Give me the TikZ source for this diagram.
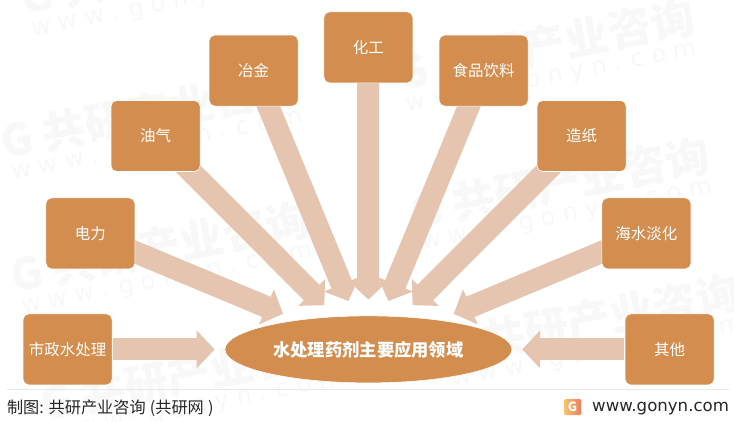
\documentclass[tikz,border=0pt]{standalone}
\usepackage{fontspec}
\setmainfont{Noto Sans CJK SC}
\newfontfamily\webfont{DejaVu Sans}
\usepackage{tikz}
\usetikzlibrary{arrows.meta, shapes.geometric, backgrounds}
\definecolor{boxorange}{HTML}{D38D4F}
\definecolor{flowtan}{HTML}{E5C4B0}
\definecolor{markgray}{HTML}{F8F8F8}
\definecolor{logoleft}{HTML}{F9C46B}
\definecolor{logoright}{HTML}{EE7C60}
\tikzset{
    fieldbox/.style={draw=white, fill=boxorange, rounded corners=4pt, text=white,
        minimum width=2.225cm, minimum height=1.775cm, font=\fontsize{11}{12}\selectfont},
    flow/.style={draw=flowtan, line width=15.6pt, shorten <=-14pt, shorten >=16*0.7113pt,
        -{Triangle[length=12.8pt,width=26.3pt]}},
    flowflat/.style={flow, shorten >=10*0.7113pt},
    marktitle/.style={rotate=11, text=markgray, font=\bfseries\fontsize{31}{34}\selectfont},
    markweb/.style={rotate=11, text=markgray, font=\webfont\fontsize{17}{20}\selectfont}
}

\begin{document}
\begin{tikzpicture}
    \useasboundingbox (0,0) rectangle (18.35,10.525);

    % Draw the centre ellipse
    \node[ellipse, draw=white, fill=boxorange, inner sep=0pt, minimum width=7.175cm, minimum height=1.675cm,
        text=white, font=\bfseries\fontsize{12.3}{14}\selectfont] (main) at (9.21,1.79) {水处理药剂主要应用领域};

    % Draw the field boxes
    \node[fieldbox] (shizheng) at (1.69,1.79) {市政水处理};
    \node[fieldbox] (dianli) at (2.26,4.69) {电力};
    \node[fieldbox] (youqi) at (3.89,7.125) {油气};
    \node[fieldbox] (yejin) at (6.34,8.76) {冶金};
    \node[fieldbox] (huagong) at (9.21,9.34) {化工};
    \node[fieldbox] (shipin) at (12.09,8.76) {食品饮料};
    \node[fieldbox] (zaozhi) at (14.54,7.125) {造纸};
    \node[fieldbox] (haishui) at (16.16,4.69) {海水淡化};
    \node[fieldbox] (qita) at (16.74,1.79) {其他};

    \begin{scope}[on background layer]
        % Faint marks behind everything
        \fill[white] (0,0) rectangle (18.35,10.525);
        \begin{scope}
            \clip (0,0) rectangle (18.35,10.525);
            \foreach \x/\y [count=\i] in {4.25/11.28, 3.75/7.7, 4/4.35, 4.75/1.15, 13.62/9.4, 14/5.95, 14.75/2.52} {
                \node[marktitle] (title\i) at (\x,\y) {G 共研产业咨询};
                \node[markweb] (web\i) at (\x+0.18,\y-0.85) {w w w . g o n y n . c o m};
            }
        \end{scope}

        % Draw the arrows into the ellipse
        \draw[flowflat, shorten <=0.7pt] (shizheng) -- (main);
        \draw[flow] (dianli) -- (main);
        \draw[flow] (youqi) -- (main);
        \draw[flow] (yejin) -- (main);
        \draw[flow] (huagong) -- (main);
        \draw[flow] (shipin) -- (main);
        \draw[flow] (zaozhi) -- (main);
        \draw[flow] (haishui) -- (main);
        \draw[flowflat, shorten <=0.7pt] (qita) -- (main);
    \end{scope}

    % Footer line, source and site
    \draw[draw=black!9] (0.18,0.8) -- (18.22,0.8);
    \node[anchor=west, inner sep=0pt, text=black!85, font=\fontsize{11.5}{13}\selectfont] (source) at (0.17,0.33) {制图: 共研产业咨询\hspace{3pt}(共研网\hspace{3pt})};
    \node[anchor=east, inner sep=0pt, text=black!85, font=\webfont\fontsize{11.8}{13}\selectfont] (site) at (18.23,0.32) {www.gonyn.com};
    \shade[left color=logoleft, right color=logoright, rounded corners=1pt] (14.1,0.15) rectangle (14.53,0.55);
    \node[inner sep=0pt, text=white, font=\bfseries\fontsize{9}{9}\selectfont] (logo) at (14.315,0.35) {G};
\end{tikzpicture}
\end{document}
